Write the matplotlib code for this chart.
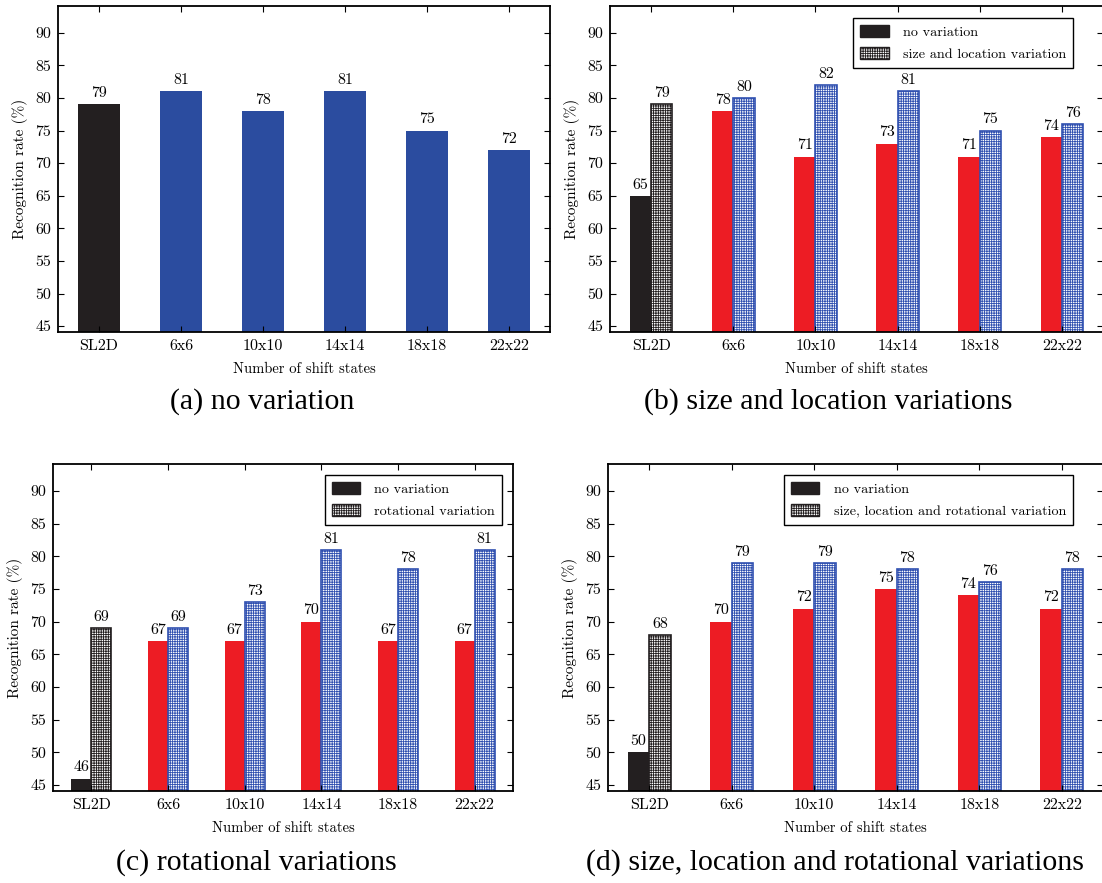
import numpy as np
import matplotlib
matplotlib.use("Agg")
from matplotlib import pyplot as plt
from matplotlib.patches import Patch

categories = ["SL2D", "6x6", "10x10", "14x14", "18x18", "22x22"]

# (a) no variation
rate_a = [79, 81, 78, 81, 75, 72]

# (b) size and location variations
base_b = [65, 78, 71, 73, 71, 74]
var_b = [79, 80, 82, 81, 75, 76]

# (c) rotational variations
base_c = [46, 67, 67, 70, 67, 67]
var_c = [69, 69, 73, 81, 78, 81]

# (d) size, location and rotational variations
base_d = [50, 70, 72, 75, 74, 72]
var_d = [68, 79, 79, 78, 76, 78]

yticks = [45, 50, 55, 60, 65, 70, 75, 80, 85, 90]

BLACK = "#231f20"
BLUE = "#2b4c9f"
RED = "#ed1c24"
HBLUE = "#3050b0"

plt.rcParams["font.family"] = ["cmr10", "DejaVu Serif"]
plt.rcParams["hatch.linewidth"] = 0.6
plt.rcParams["axes.unicode_minus"] = False

W, H = 1102, 883
fig = plt.figure(figsize=(W / 100, H / 100), dpi=100)


def px(l, t, r, b):
    return [l / W, 1 - b / H, (r - l) / W, (b - t) / H]


def setup(ax):
    x = np.arange(len(categories))
    ax.set_xlim(-0.5, 5.5)
    ax.set_ylim(44.1, 94.1)
    ax.set_xticks(x)
    ax.set_xticklabels(categories, fontsize=11.5)
    ax.set_yticks(yticks)
    ax.set_yticklabels([str(v) for v in yticks], fontsize=11.5)
    ax.tick_params(direction="in", length=4, width=0.8, top=True, right=True, pad=5)
    for s in ax.spines.values():
        s.set_linewidth(1.3)
    ax.set_xlabel("Number of shift states", fontsize=10.5, labelpad=7)
    ax.set_ylabel("Recognition rate (%)", fontsize=11, labelpad=5)


def label(ax, xs, vals):
    for xv, v in zip(xs, vals):
        ax.annotate(str(v), (xv, v), xytext=(0, 3), textcoords="offset points",
                    ha="center", va="bottom", fontsize=11.5)


def grouped(ax, base, var, var_name, legend_xy):
    x = np.arange(len(categories))
    w = 0.26
    cols = [BLACK] + [RED] * 5
    ecols = [BLACK] + [HBLUE] * 5
    ax.bar(x - w / 2, base, w, color=cols, edgecolor="none")
    for xi, v, ec in zip(x, var, ecols):
        ax.bar(xi + w / 2, v, w, color="white", edgecolor=ec, hatch="+++++++", linewidth=1.2)
    label(ax, x - w / 2, base)
    label(ax, x + w / 2, var)
    handles = [Patch(facecolor=BLACK, edgecolor=BLACK),
               Patch(facecolor="white", edgecolor=BLACK, hatch="+++++++")]
    leg = ax.legend(handles, ["no variation", var_name], loc="upper right",
                    bbox_to_anchor=(legend_xy[0] / W, 1 - legend_xy[1] / H),
                    bbox_transform=fig.transFigure, borderaxespad=0,
                    fancybox=False, edgecolor="black", framealpha=1,
                    fontsize=10.2, handlelength=2.0, handleheight=0.9,
                    labelspacing=0.6, borderpad=0.5, handletextpad=1.0)
    leg.get_frame().set_linewidth(1.0)


# (a)
ax1 = fig.add_axes(px(58, 6, 550, 332))
x = np.arange(len(categories))
ax1.bar(x, rate_a, 0.52, color=[BLACK] + [BLUE] * 5, edgecolor="none")
label(ax1, x, rate_a)
setup(ax1)

# (b)
ax2 = fig.add_axes(px(610, 6, 1103, 332))
grouped(ax2, base_b, var_b, "size and location variation", (1073, 18))
setup(ax2)

# (c)
ax3 = fig.add_axes(px(53, 464, 513, 791))
grouped(ax3, base_c, var_c, "rotational variation", (502, 475))
setup(ax3)

# (d)
ax4 = fig.add_axes(px(608, 464, 1103, 791))
grouped(ax4, base_d, var_d, "size, location and rotational variation", (1073, 475))
setup(ax4)

captions = [("(a) no variation", 262, 402),
            ("(b) size and location variations", 828, 402),
            ("(c) rotational variations", 256, 863),
            ("(d) size, location and rotational variations", 835, 863)]
for txt, cx, cy in captions:
    fig.text(cx / W, 1 - cy / H, txt, ha="center", va="center",
             fontsize=21.5, family="Liberation Serif")

fig.savefig("out.png", dpi=100)
